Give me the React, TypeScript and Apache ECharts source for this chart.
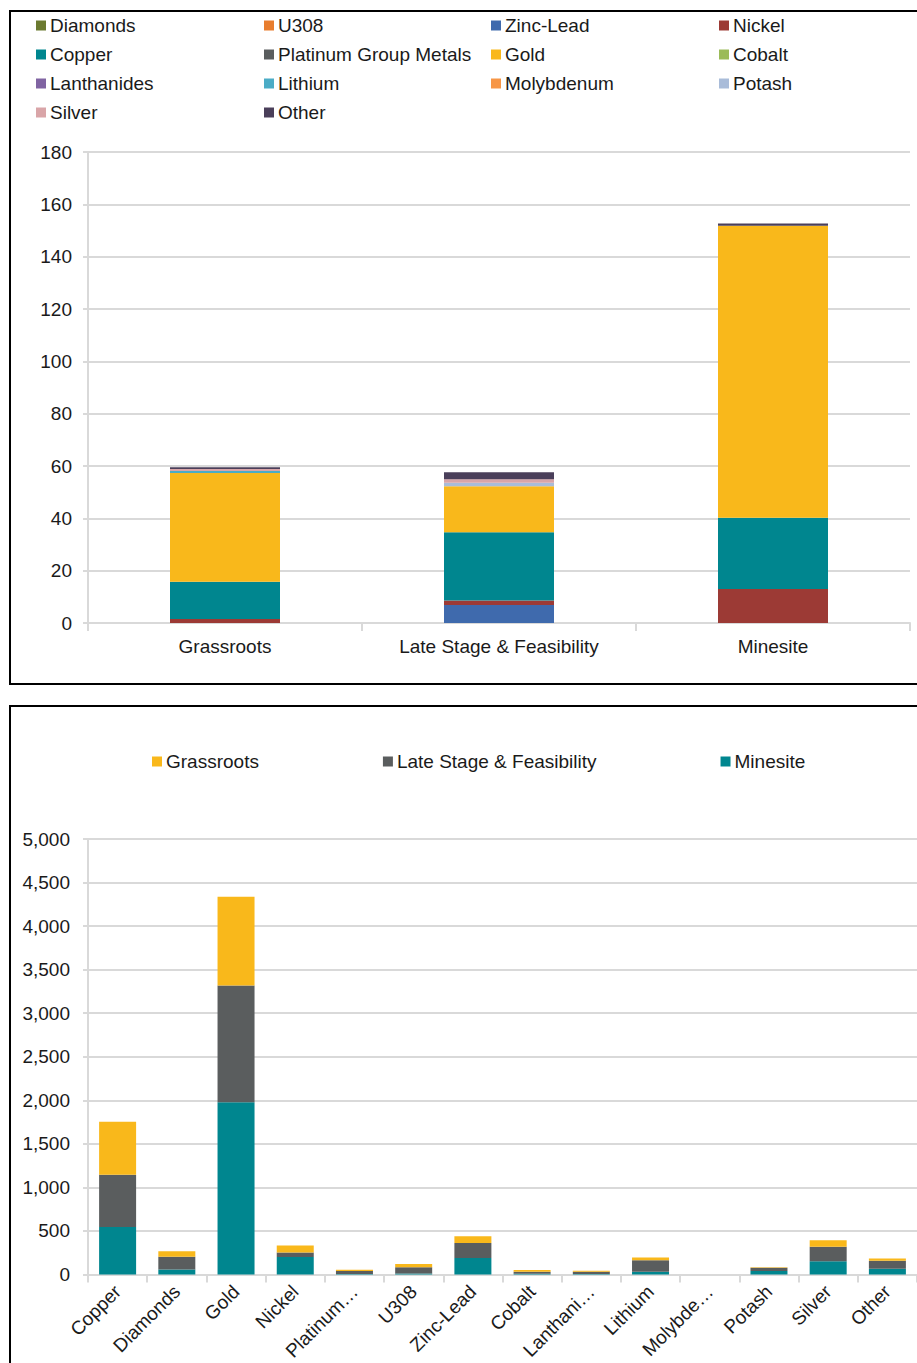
import React, { useEffect, useRef } from "react";
import * as echarts from "echarts";

// ---- Project counts by stage and commodity ----
const stages = ["Grassroots", "Late Stage & Feasibility", "Minesite"];
const commodities = [
  "Diamonds", "U308", "Zinc-Lead", "Nickel", "Copper", "Platinum Group Metals", "Gold",
  "Cobalt", "Lanthanides", "Lithium", "Molybdenum", "Potash", "Silver", "Other",
];
const commodityColors = [
  "#6b7a30", "#e87d2e", "#3f6aad", "#9c3a35", "#00868f", "#5a5d5e", "#f9b81b",
  "#9bbb59", "#8064a2", "#4bacc6", "#f79646", "#a9bcd9", "#d9a5a8", "#4a3f5a",
];
// values per commodity for [Grassroots, Late Stage & Feasibility, Minesite]
const diamonds = [0, 0, 0];
const u308 = [0, 0, 0];
const zincLead = [0, 6.9, 0];
const nickel = [1.5, 1.7, 13];
const copper = [14.3, 26.1, 27.2];
const pgm = [0, 0, 0];
const gold = [41.5, 17.6, 111.6];
const cobalt = [0, 0, 0];
const lanthanides = [0, 0, 0];
const lithium = [0.8, 0, 0];
const molybdenum = [0, 0, 0];
const potash = [0, 1.3, 0];
const silver = [0.8, 1.3, 0];
const other = [0.6, 2.7, 0.9];
const commodityValues = [
  diamonds, u308, zincLead, nickel, copper, pgm, gold,
  cobalt, lanthanides, lithium, molybdenum, potash, silver, other,
];
const topTicks = { min: 0, max: 180, interval: 20 };

// ---- Spend by commodity and stage ----
const commodityLabels = [
  "Copper", "Diamonds", "Gold", "Nickel", "Platinum…", "U308", "Zinc-Lead",
  "Cobalt", "Lanthani…", "Lithium", "Molybde…", "Potash", "Silver", "Other",
];
const minesite = [546, 57, 1976, 200, 5, 10, 190, 8, 5, 30, 0, 40, 152, 65];
const lateStage = [598, 145, 1342, 52, 35, 72, 170, 22, 25, 134, 0, 36, 165, 92];
const grassroots = [610, 65, 1018, 80, 15, 38, 80, 20, 12, 31, 0, 8, 75, 26];
const bottomTicks = { min: 0, max: 5000, interval: 500 };

const FONT = "'Liberation Sans', Arial, sans-serif";
const TEXT = "#1a1a1a";
const GRID_LINE = "#d9d9d9";

const legendColumns = [
  { left: 31, items: ["Diamonds", "Copper", "Lanthanides", "Silver"] },
  { left: 259, items: ["U308", "Platinum Group Metals", "Lithium", "Other"] },
  { left: 486, items: ["Zinc-Lead", "Gold", "Molybdenum"] },
  { left: 714, items: ["Nickel", "Cobalt", "Potash"] },
];

export default function App() {
  const ref = useRef<HTMLDivElement>(null);

  useEffect(() => {
    if (!ref.current) return;
    const chart = echarts.init(ref.current, null, { renderer: "svg" });

    const axisLabel = { color: TEXT, fontSize: 19, fontFamily: FONT };

    const topSeries = commodities.map((name, i) => ({
      name,
      type: "bar",
      stack: "projects",
      xAxisIndex: 0,
      yAxisIndex: 0,
      barWidth: 110,
      itemStyle: { color: commodityColors[i] },
      data: commodityValues[i],
    }));

    const bottomSeries = [
      { name: "Minesite", data: minesite, color: "#00868f" },
      { name: "Late Stage & Feasibility", data: lateStage, color: "#5a5d5e" },
      { name: "Grassroots", data: grassroots, color: "#f9b81b" },
    ].map((s) => ({
      name: s.name,
      type: "bar",
      stack: "spend",
      xAxisIndex: 1,
      yAxisIndex: 1,
      barWidth: 37,
      itemStyle: { color: s.color },
      data: s.data,
    }));

    chart.setOption({
      animation: false,
      backgroundColor: "#ffffff",
      color: commodityColors,
      graphic: [
        {
          type: "rect",
          shape: { x: 10, y: 11, width: 960, height: 673 },
          style: { fill: "none", stroke: "#000", lineWidth: 2 },
          z: 100,
        },
        {
          type: "rect",
          shape: { x: 10, y: 706, width: 960, height: 700 },
          style: { fill: "none", stroke: "#000", lineWidth: 2 },
          z: 100,
        },
      ],
      legend: [
        ...legendColumns.map((col) => ({
          orient: "vertical",
          left: col.left,
          top: 11,
          itemWidth: 10,
          itemHeight: 10,
          itemGap: 10,
          icon: "rect",
          selectedMode: false,
          textStyle: { color: TEXT, fontSize: 19, fontFamily: FONT, lineHeight: 19, padding: [0, 0, 0, -1] },
          data: col.items,
        })),
        {
          orient: "horizontal",
          left: 147,
          top: 747,
          itemWidth: 10,
          itemHeight: 10,
          itemGap: 124,
          icon: "rect",
          selectedMode: false,
          textStyle: { color: TEXT, fontSize: 19, fontFamily: FONT, padding: [0, 0, 0, -1] },
          data: ["Grassroots", "Late Stage & Feasibility", "Minesite"],
        },
      ],
      grid: [
        { left: 88, top: 152, width: 822, height: 471 },
        { left: 88, top: 839, width: 833, height: 437 },
      ],
      xAxis: [
        {
          type: "category",
          gridIndex: 0,
          data: stages,
          axisLine: { lineStyle: { color: GRID_LINE, width: 2 } },
          axisTick: { show: true, length: 8, lineStyle: { color: GRID_LINE, width: 2 } },
          axisLabel: { ...axisLabel, margin: 14 },
        },
        {
          type: "category",
          gridIndex: 1,
          data: commodityLabels,
          axisLine: { lineStyle: { color: GRID_LINE, width: 2 } },
          axisTick: { show: true, length: 8, lineStyle: { color: GRID_LINE, width: 2 } },
          axisLabel: { ...axisLabel, rotate: 45, margin: 14, interval: 0 },
        },
      ],
      yAxis: [
        {
          type: "value",
          gridIndex: 0,
          ...topTicks,
          axisLine: { show: true, lineStyle: { color: GRID_LINE, width: 2 } },
          axisTick: { show: true, length: 5, lineStyle: { color: GRID_LINE, width: 2 } },
          splitLine: { lineStyle: { color: GRID_LINE, width: 2 } },
          axisLabel: { ...axisLabel, margin: 16 },
        },
        {
          type: "value",
          gridIndex: 1,
          ...bottomTicks,
          axisLine: { show: true, lineStyle: { color: GRID_LINE, width: 2 } },
          axisTick: { show: true, length: 5, lineStyle: { color: GRID_LINE, width: 2 } },
          splitLine: { lineStyle: { color: GRID_LINE, width: 2 } },
          axisLabel: {
            ...axisLabel,
            margin: 18,
            formatter: (v: number) => v.toLocaleString("en-US"),
          },
        },
      ],
      series: [...topSeries, ...bottomSeries],
    });

    return () => chart.dispose();
  }, []);

  return (
    <div
      ref={ref}
      style={{ position: "absolute", left: 0, top: 0, width: 917, height: 1363 }}
    />
  );
}
